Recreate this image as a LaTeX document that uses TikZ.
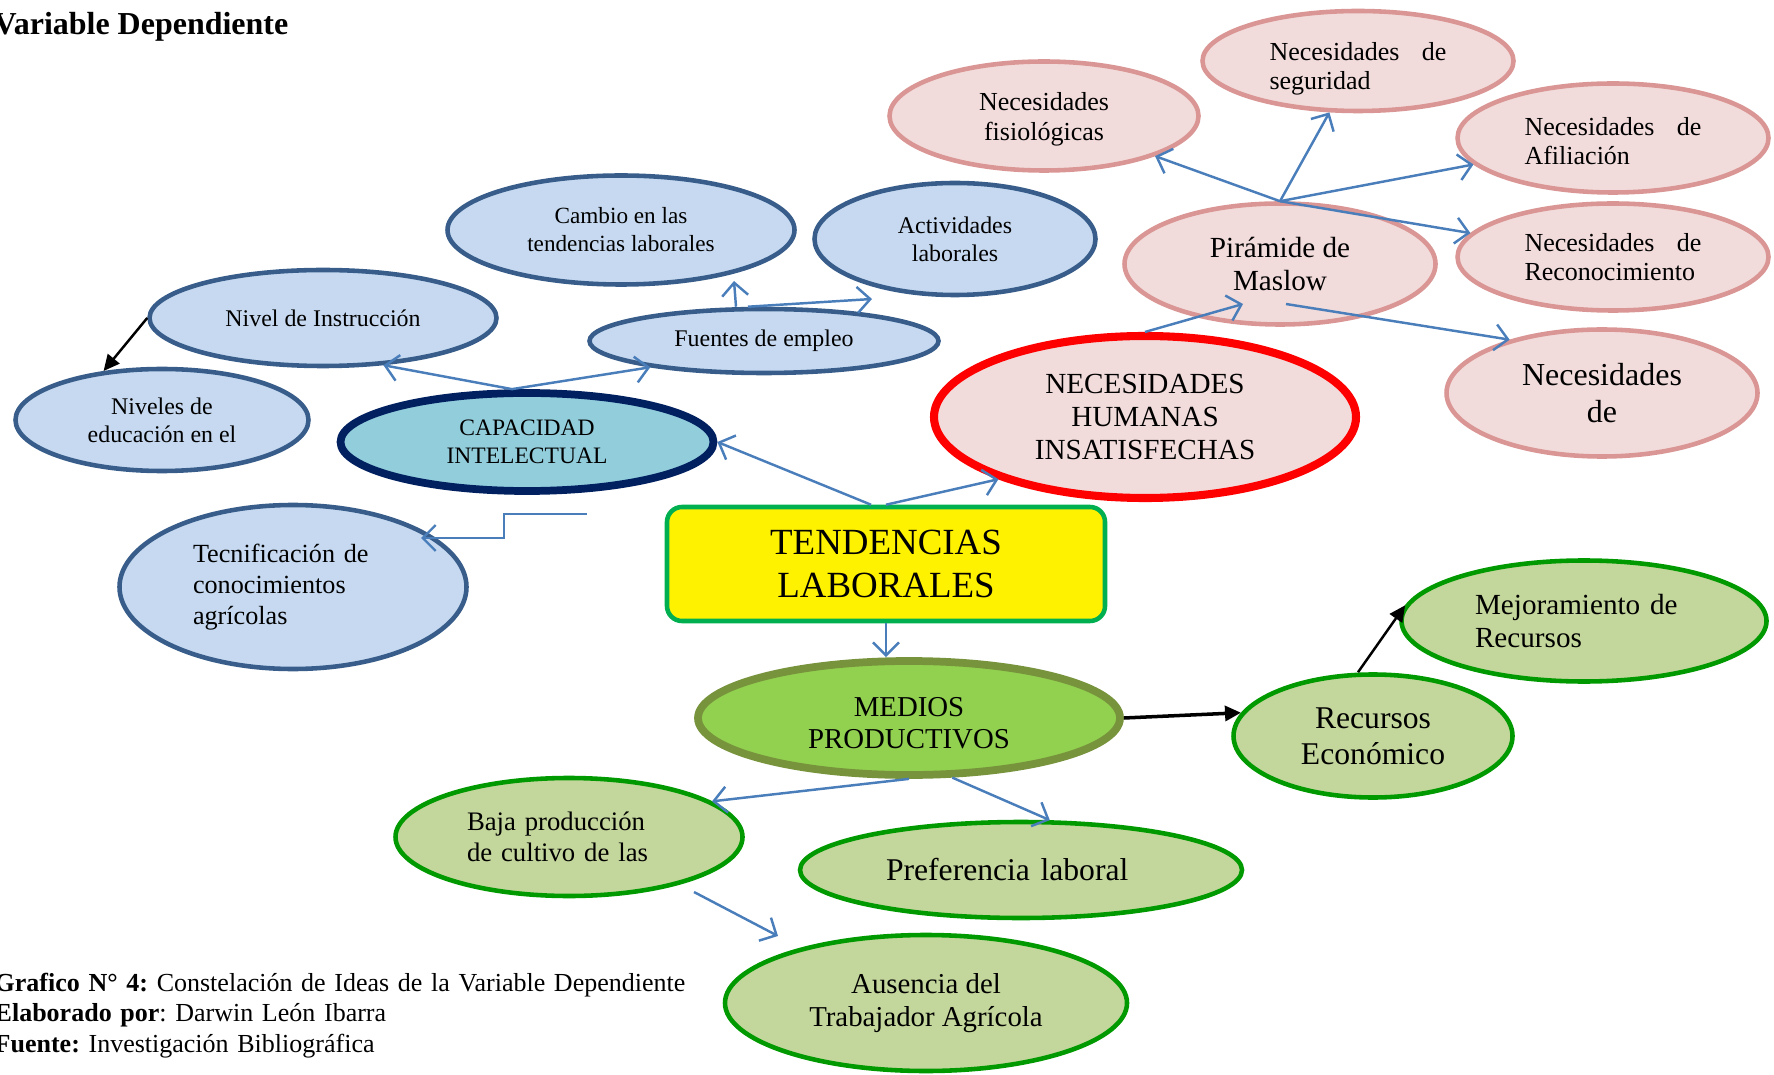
\documentclass[tikz,border=0pt]{standalone}
\usepackage{fontspec}
\setmainfont{Liberation Serif}
\usepackage{xcolor}
\usepackage{tikz}
\usetikzlibrary{shapes.geometric, arrows.meta, positioning}
\definecolor{pinkfill}{RGB}{242, 220, 219}
\definecolor{pinkline}{RGB}{217, 150, 148}
\definecolor{bluefill}{RGB}{198, 217, 240}
\definecolor{blueline}{RGB}{56, 93, 138}
\definecolor{capfill}{RGB}{146, 205, 220}
\definecolor{capline}{RGB}{0, 32, 96}
\definecolor{tendline}{RGB}{0, 176, 80}
\definecolor{greenfill}{RGB}{195, 214, 155}
\definecolor{greenline}{RGB}{0, 153, 0}
\definecolor{medfill}{RGB}{146, 208, 80}
\definecolor{medline}{RGB}{119, 147, 60}
\definecolor{arrowblue}{RGB}{74, 126, 187}
\frenchspacing

\begin{document}
\begin{tikzpicture}[x=1mm, y=-1mm,
    pinkell/.style={ellipse, draw=pinkline, line width=1.3pt, fill=pinkfill, inner sep=0pt, align=center, font=\fontsize{7.4}{8.4}\selectfont},
    blueell/.style={ellipse, draw=blueline, line width=1.3pt, fill=bluefill, inner sep=0pt, align=center, font=\fontsize{6.8}{8}\selectfont},
    greenell/.style={ellipse, draw=greenline, line width=1.3pt, fill=greenfill, inner sep=0pt, align=center},
    link/.style={-{Straight Barb[length=1.3mm, width=2.6mm]}, arrowblue, line width=0.7pt},
    blacklink/.style={-{Triangle[length=1.6mm, width=1.5mm]}, black, line width=0.7pt}
]
    \useasboundingbox (0, 0) rectangle (177.4, 107.5);

    % pyramid of needs
    \node[pinkell, minimum width=30.9mm, minimum height=10.9mm, text height=5.4mm] (fisio) at (104.4, 11.6) {Necesidades\\fisiológicas};
    \node[pinkell, minimum width=31.1mm, minimum height=10mm, text height=3.4mm, text width=17.7mm, align=left] (segur) at (135.8, 6.1) {Necesidades\hfill de\\seguridad};
    \node[pinkell, minimum width=31.1mm, minimum height=10.9mm, text height=2.4mm, text width=17.7mm, align=left] (afil) at (161.3, 13.8) {Necesidades\hfill de\\Afiliación};
    \node[pinkell, minimum width=31.1mm, minimum height=10.7mm, text width=17.7mm, align=left] (recon) at (161.3, 25.7) {Necesidades\hfill de\\Reconocimiento};
    \node[pinkell, minimum width=31.1mm, minimum height=12.1mm, font=\fontsize{8.3}{9.6}\selectfont] (maslow) at (128.0, 26.4) {Pirámide de\\Maslow};
    \node[pinkell, minimum width=31.1mm, minimum height=12.7mm, font=\fontsize{9.1}{10.6}\selectfont] (necde) at (160.2, 39.3) {Necesidades\\de};
    \node[pinkell, draw=red, line width=2.3pt, minimum width=42.2mm, minimum height=16.2mm, font=\fontsize{8.3}{9.3}\selectfont] (nhi) at (114.5, 41.7) {NECESIDADES\\HUMANAS\\INSATISFECHAS};

    % intellectual side
    \node[blueell, minimum width=34.7mm, minimum height=10.9mm, font=\fontsize{6.6}{8}\selectfont] (cambio) at (62.1, 23.0) {Cambio en las\\tendencias laborales};
    \node[blueell, minimum width=28.1mm, minimum height=11.2mm] (activ) at (95.5, 23.9) {Actividades\\laborales};
    \node[blueell, minimum width=34.7mm, minimum height=9.6mm] (nivel) at (32.3, 31.8) {Nivel de Instrucción};
    \node[blueell, minimum width=34.9mm, minimum height=6.4mm] (fuentes) at (76.4, 34.1) {Fuentes de empleo};
    \node[blueell, minimum width=29.3mm, minimum height=10.2mm] (niveles) at (16.2, 42.0) {Niveles de\\educación en el};
    \node[blueell, draw=capline, fill=capfill, line width=2.2pt, minimum width=37.3mm, minimum height=9.8mm, font=\fontsize{6.7}{8}\selectfont] (capac) at (52.7, 44.2) {CAPACIDAD\\INTELECTUAL};
    \node[blueell, minimum width=34.7mm, minimum height=16.4mm, text width=20mm, align=left, font=\fontsize{7.45}{8.9}\selectfont] (tecni) at (29.3, 58.7) {Tecnificación de\\conocimientos\\agrícolas};

    \node[rectangle, rounded corners=1.5mm, draw=tendline, fill=yellow, line width=1.3pt, minimum width=43.8mm, minimum height=11.4mm, align=center, font=\fontsize{10.5}{12.2}\selectfont] (tend) at (88.6, 56.4) {TENDENCIAS\\LABORALES};

    % productive side
    \node[greenell, draw=medline, fill=medfill, line width=2.2pt, minimum width=42.2mm, minimum height=11.4mm, text height=6.2mm, font=\fontsize{8.2}{9.3}\selectfont] (medios) at (90.9, 71.8) {MEDIOS\\PRODUCTIVOS};
    \node[greenell, minimum width=27.9mm, minimum height=12.3mm, font=\fontsize{9}{10.3}\selectfont] (recursos) at (137.3, 73.6) {Recursos\\Económico};
    \node[greenell, minimum width=36.5mm, minimum height=12.1mm, text width=21.8mm, align=left, font=\fontsize{8.3}{9.3}\selectfont] (mejora) at (158.4, 62.1) {Mejoramiento de\\Recursos};
    \node[greenell, minimum width=34.7mm, minimum height=11.8mm, text width=20.4mm, align=left, font=\fontsize{7.6}{8.7}\selectfont] (baja) at (56.9, 83.7) {Baja producción\\de cultivo de las};
    \node[greenell, minimum width=44.2mm, minimum height=9.6mm, text width=27mm, align=left, font=\fontsize{9}{10.5}\selectfont] (prefer) at (102.1, 87.0) {Preferencia laboral};
    \node[greenell, minimum width=40.2mm, minimum height=13.6mm, font=\fontsize{8.2}{9.6}\selectfont] (ausen) at (92.6, 100.3) {Ausencia del\\Trabajador Agrícola};

    \node[anchor=base east, inner sep=0pt, font=\fontsize{9.1}{11}\selectfont\bfseries] (title) at (28.9, 3.5) {Variable Dependiente};
    \node[anchor=base west, inner sep=0pt, text width=80mm, align=left, font=\fontsize{7.4}{8.7}\selectfont] (caption) at (-0.6, 99.1) {\textbf{Grafico N° 4:} Constelación de Ideas de la Variable Dependiente\\\textbf{Elaborado por}: Darwin León Ibarra\\\textbf{Fuente:} Investigación Bibliográfica};

    % connectors
    \draw[link] ([xshift=-1.5mm]tend.north) -- (capac.east);
    \draw[link] (tend.north) -- (nhi.203);
    \draw[link] (nhi.north) -- ([xshift=-3.7mm, yshift=-4mm]maslow.center);
    \draw[link] (maslow.north) -- (fisio);
    \draw[link] (maslow.north) -- (segur);
    \draw[link] (maslow.north) -- (afil);
    \draw[link] (maslow.north) -- (recon);
    \draw[link] ([xshift=0.6mm, yshift=-4mm]maslow.center) -- (necde.150);
    \draw[link] ([xshift=-1.5mm]capac.north) -- (nivel.-38);
    \draw[link] ([xshift=-1.5mm]capac.north) -- (fuentes.193);
    \draw[link] ([xshift=-2.8mm]fuentes.north) -- ([xshift=11.3mm, yshift=-5.1mm]cambio.center);
    \draw[link] ([xshift=-1.6mm]fuentes.north) -- ([xshift=-8.3mm, yshift=-6mm]activ.center);
    \draw[blacklink] (nivel.west) -- (niveles.140);
    \coordinate (capfoot) at (58.7, 51.4);
    \draw[link] (capfoot) -- ++(-8.3, 0) |- ([xshift=12.8mm, yshift=4.9mm]tecni.center);
    \draw[link] (tend.south) -- (tend.south |- medios.north);
    \draw[blacklink, line width=1pt] (medios.east) -- (recursos.170);
    \draw[blacklink] ([xshift=-1.5mm]recursos.north) -- (mejora.175);
    \draw[link] (medios.south) -- (baja.14);
    \draw[link] (medios.-54) -- (prefer.60);
    \draw[link] ([xshift=12.5mm, yshift=-5.5mm]baja.center) -- ([xshift=-14.8mm, yshift=6.7mm]ausen.center);
\end{tikzpicture}
\end{document}
